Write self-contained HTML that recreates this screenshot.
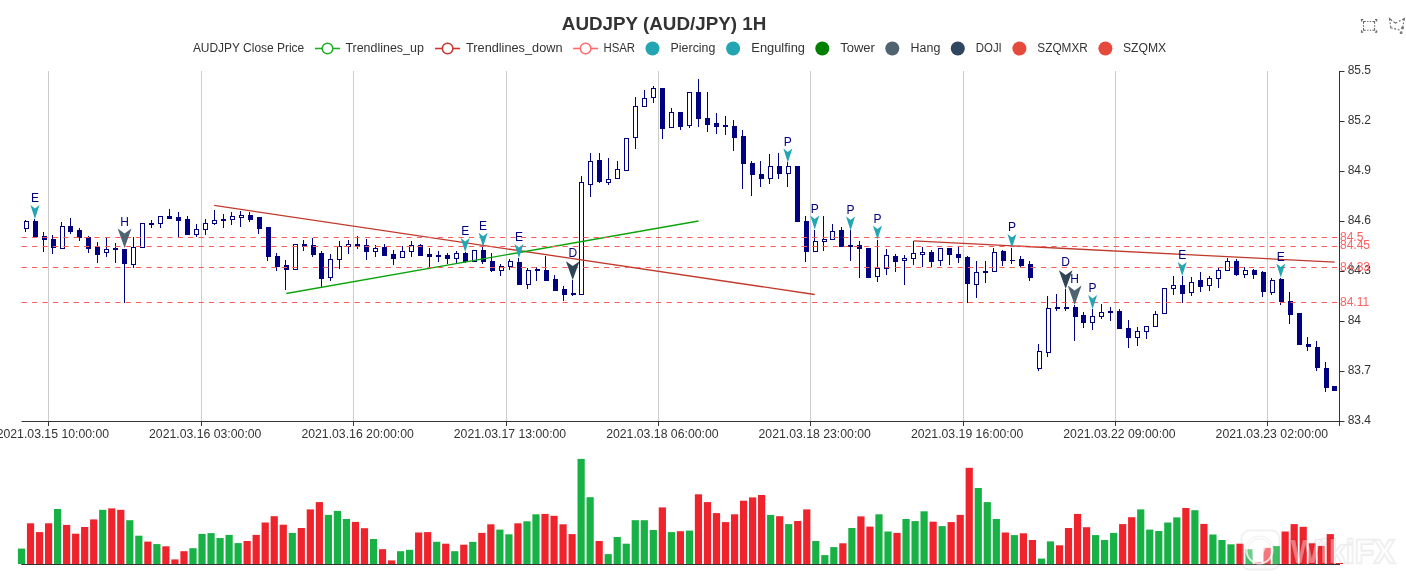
<!DOCTYPE html>
<html><head><meta charset="utf-8"><title>AUDJPY (AUD/JPY) 1H</title>
<style>
html,body{margin:0;padding:0;background:#fff;}
body{width:1406px;height:586px;overflow:hidden;}
svg{display:block;font-family:"Liberation Sans", Arial, sans-serif;will-change:transform;}
</style></head>
<body>
<svg width="1406" height="586" viewBox="0 0 1406 586" shape-rendering="auto">
<rect width="1406" height="586" fill="#fff"/>
<text x="561.8" y="30" font-size="18.6" font-weight="bold" fill="#333" textLength="204.5" lengthAdjust="spacingAndGlyphs">AUDJPY (AUD/JPY) 1H</text>
<text x="192.9" y="52" font-size="12" fill="#333" textLength="111.3" lengthAdjust="spacingAndGlyphs">AUDJPY Close Price</text>
<text x="345.4" y="52" font-size="12" fill="#333" textLength="78.5" lengthAdjust="spacingAndGlyphs">Trendlines_up</text>
<text x="466" y="52" font-size="12" fill="#333" textLength="96.5" lengthAdjust="spacingAndGlyphs">Trendlines_down</text>
<text x="603.4" y="52" font-size="12" fill="#333" textLength="31.7" lengthAdjust="spacingAndGlyphs">HSAR</text>
<text x="670.6" y="52" font-size="12" fill="#333" textLength="44.8" lengthAdjust="spacingAndGlyphs">Piercing</text>
<text x="751.3" y="52" font-size="12" fill="#333" textLength="53.7" lengthAdjust="spacingAndGlyphs">Engulfing</text>
<text x="840.2" y="52" font-size="12" fill="#333" textLength="34.7" lengthAdjust="spacingAndGlyphs">Tower</text>
<text x="910.6" y="52" font-size="12" fill="#333" textLength="29.7" lengthAdjust="spacingAndGlyphs">Hang</text>
<text x="975.8" y="52" font-size="12" fill="#333" textLength="26" lengthAdjust="spacingAndGlyphs">DOJI</text>
<text x="1037.3" y="52" font-size="12" fill="#333" textLength="50.5" lengthAdjust="spacingAndGlyphs">SZQMXR</text>
<text x="1123" y="52" font-size="12" fill="#333" textLength="43.2" lengthAdjust="spacingAndGlyphs">SZQMX</text>
<line x1="315" y1="48.5" x2="340" y2="48.5" stroke="#1fae2a" stroke-width="1.6"/>
<circle cx="327.5" cy="48.5" r="5.3" fill="#fff" stroke="#1fae2a" stroke-width="1.5"/>
<line x1="435.1" y1="48.5" x2="460.1" y2="48.5" stroke="#c8352b" stroke-width="1.6"/>
<circle cx="447.6" cy="48.5" r="5.3" fill="#fff" stroke="#c8352b" stroke-width="1.5"/>
<line x1="573.1" y1="48.5" x2="598.1" y2="48.5" stroke="#ff6a6a" stroke-width="1.6"/>
<circle cx="585.6" cy="48.5" r="5.3" fill="#fff" stroke="#ff6a6a" stroke-width="1.5"/>
<circle cx="652.5" cy="48.5" r="7" fill="#23a5b3"/>
<circle cx="733.1" cy="48.5" r="7" fill="#23a5b3"/>
<circle cx="822.3" cy="48.5" r="7" fill="#008000"/>
<circle cx="892.3" cy="48.5" r="7" fill="#4f6470"/>
<circle cx="957.8" cy="48.5" r="7" fill="#2f4560"/>
<circle cx="1019.4" cy="48.5" r="7" fill="#e64a3c"/>
<circle cx="1105.4" cy="48.5" r="7" fill="#e64a3c"/>
<g transform="translate(1361.43,19.64) scale(0.170,0.178)"><path d="M0.4,10V-0.2h9.8 M89.6,10V-0.2h-9.8 M0.4,60v10.2h9.8 M89.6,60v10.2h-9.8 M12.3,22.4V10.5h13.1 M33.6,10.5h7.8 M49.1,10.5h7.8 M77.5,22.4V10.5h-13 M12.3,31.1v8.2 M77.7,31.1v8.2 M12.3,47.6v11.9h13.1 M33.6,59.5h7.6 M49.1,59.5 h7.7 M77.5,47.6v11.9h-13" fill="none" stroke="#666" stroke-width="1.1" vector-effect="non-scaling-stroke"/></g>
<g transform="translate(1386.67,17.12) scale(0.287,0.287)"><path d="M55.2,34.9c1.7,0,3.1,1.4,3.1,3.1s-1.4,3.1-3.1,3.1 s-3.1-1.4-3.1-3.1S53.5,34.9,55.2,34.9z M50.4,51c1.7,0,3.1,1.4,3.1,3.1c0,1.7-1.4,3.1-3.1,3.1c-1.7,0-3.1-1.4-3.1-3.1 C47.3,52.4,48.7,51,50.4,51z M55.6,37.1l1.5-7.8 M60.1,13.5l1.6-8.7l-7.8,4 M59,19l-1,5.3 M24,16.1l6.4,4.9l6.4-3.3 M48.5,11.6 l-5.9,3.1 M19.1,12.8L9.7,5.1l1.1,7.7 M13.4,29.8l1,7.3l6.6,1.6 M11.6,18.4l1,6.1 M32.8,41.9L26.6,40 M44.6,45.1L38.4,43.4" fill="none" stroke="#666" stroke-width="1.1" vector-effect="non-scaling-stroke"/></g>
<line x1="48.5" y1="71" x2="48.5" y2="421.5" stroke="#ccc" stroke-width="1"/>
<line x1="201.5" y1="71" x2="201.5" y2="421.5" stroke="#ccc" stroke-width="1"/>
<line x1="353.5" y1="71" x2="353.5" y2="421.5" stroke="#ccc" stroke-width="1"/>
<line x1="506.5" y1="71" x2="506.5" y2="421.5" stroke="#ccc" stroke-width="1"/>
<line x1="658.5" y1="71" x2="658.5" y2="421.5" stroke="#ccc" stroke-width="1"/>
<line x1="810.5" y1="71" x2="810.5" y2="421.5" stroke="#ccc" stroke-width="1"/>
<line x1="963.5" y1="71" x2="963.5" y2="421.5" stroke="#ccc" stroke-width="1"/>
<line x1="1115.5" y1="71" x2="1115.5" y2="421.5" stroke="#ccc" stroke-width="1"/>
<line x1="1267.5" y1="71" x2="1267.5" y2="421.5" stroke="#ccc" stroke-width="1"/>
<line x1="25.5" y1="220" x2="25.5" y2="232" stroke="#000080" stroke-width="1"/>
<rect x="24.5" y="221.5" width="4" height="7" fill="#fff" stroke="#000080" stroke-width="1"/>
<line x1="34.5" y1="219" x2="34.5" y2="238" stroke="#000080" stroke-width="1"/>
<rect x="33.5" y="221.5" width="4" height="15" fill="#000080" stroke="#000080" stroke-width="1"/>
<line x1="43.5" y1="232" x2="43.5" y2="252" stroke="#000080" stroke-width="1"/>
<rect x="42.5" y="236.5" width="4" height="3" fill="#000080" stroke="#000080" stroke-width="1"/>
<line x1="52.5" y1="235" x2="52.5" y2="254" stroke="#000080" stroke-width="1"/>
<rect x="51.5" y="239.5" width="4" height="8" fill="#000080" stroke="#000080" stroke-width="1"/>
<line x1="61.5" y1="222" x2="61.5" y2="249" stroke="#000080" stroke-width="1"/>
<rect x="60.5" y="226.5" width="4" height="22" fill="#fff" stroke="#000080" stroke-width="1"/>
<line x1="70.5" y1="218" x2="70.5" y2="234" stroke="#000080" stroke-width="1"/>
<rect x="68.5" y="226.5" width="4" height="5" fill="#000080" stroke="#000080" stroke-width="1"/>
<line x1="79.5" y1="228" x2="79.5" y2="241" stroke="#000080" stroke-width="1"/>
<rect x="77.5" y="230.5" width="4" height="7" fill="#000080" stroke="#000080" stroke-width="1"/>
<line x1="88.5" y1="236" x2="88.5" y2="253" stroke="#000080" stroke-width="1"/>
<rect x="86.5" y="237.5" width="4" height="11" fill="#000080" stroke="#000080" stroke-width="1"/>
<line x1="97.5" y1="242" x2="97.5" y2="263" stroke="#000080" stroke-width="1"/>
<rect x="95.5" y="247.5" width="4" height="7" fill="#000080" stroke="#000080" stroke-width="1"/>
<line x1="106.5" y1="238" x2="106.5" y2="257" stroke="#000080" stroke-width="1"/>
<rect x="104.5" y="249.5" width="4" height="3" fill="#fff" stroke="#000080" stroke-width="1"/>
<line x1="115.5" y1="243" x2="115.5" y2="263" stroke="#000080" stroke-width="1"/>
<rect x="113.5" y="248.5" width="4" height="1" fill="#000080" stroke="#000080" stroke-width="1"/>
<line x1="124.5" y1="249" x2="124.5" y2="303" stroke="#000080" stroke-width="1"/>
<rect x="122.5" y="249.5" width="4" height="14" fill="#000080" stroke="#000080" stroke-width="1"/>
<line x1="133.5" y1="237" x2="133.5" y2="268" stroke="#000080" stroke-width="1"/>
<rect x="131.5" y="247.5" width="4" height="17" fill="#fff" stroke="#000080" stroke-width="1"/>
<line x1="142.5" y1="223" x2="142.5" y2="248" stroke="#000080" stroke-width="1"/>
<rect x="140.5" y="223.5" width="4" height="24" fill="#fff" stroke="#000080" stroke-width="1"/>
<line x1="151.5" y1="220" x2="151.5" y2="228" stroke="#000080" stroke-width="1"/>
<rect x="149.5" y="223.5" width="4" height="1" fill="#000080" stroke="#000080" stroke-width="1"/>
<line x1="160.5" y1="216" x2="160.5" y2="228" stroke="#000080" stroke-width="1"/>
<rect x="158.5" y="216.5" width="4" height="7" fill="#fff" stroke="#000080" stroke-width="1"/>
<line x1="169.5" y1="209" x2="169.5" y2="219" stroke="#000080" stroke-width="1"/>
<rect x="167.5" y="216.5" width="4" height="2" fill="#000080" stroke="#000080" stroke-width="1"/>
<line x1="178.5" y1="212" x2="178.5" y2="238" stroke="#000080" stroke-width="1"/>
<rect x="176.5" y="217.5" width="4" height="3" fill="#000080" stroke="#000080" stroke-width="1"/>
<line x1="187.5" y1="216" x2="187.5" y2="235" stroke="#000080" stroke-width="1"/>
<rect x="185.5" y="219.5" width="4" height="15" fill="#000080" stroke="#000080" stroke-width="1"/>
<line x1="196.5" y1="224" x2="196.5" y2="237" stroke="#000080" stroke-width="1"/>
<rect x="194.5" y="229.5" width="4" height="5" fill="#fff" stroke="#000080" stroke-width="1"/>
<line x1="205.5" y1="219" x2="205.5" y2="235" stroke="#000080" stroke-width="1"/>
<rect x="203.5" y="223.5" width="4" height="6" fill="#fff" stroke="#000080" stroke-width="1"/>
<line x1="214.5" y1="210" x2="214.5" y2="225" stroke="#000080" stroke-width="1"/>
<rect x="212.5" y="220.5" width="4" height="3" fill="#fff" stroke="#000080" stroke-width="1"/>
<line x1="223.5" y1="214" x2="223.5" y2="228" stroke="#000080" stroke-width="1"/>
<rect x="221.5" y="219.5" width="4" height="1" fill="#fff" stroke="#000080" stroke-width="1"/>
<line x1="231.5" y1="212" x2="231.5" y2="225" stroke="#000080" stroke-width="1"/>
<rect x="230.5" y="216.5" width="4" height="3" fill="#fff" stroke="#000080" stroke-width="1"/>
<line x1="240.5" y1="211" x2="240.5" y2="227" stroke="#000080" stroke-width="1"/>
<rect x="239.5" y="215.5" width="4" height="2" fill="#fff" stroke="#000080" stroke-width="1"/>
<line x1="249.5" y1="212" x2="249.5" y2="222" stroke="#000080" stroke-width="1"/>
<rect x="248.5" y="215.5" width="4" height="4" fill="#000080" stroke="#000080" stroke-width="1"/>
<line x1="258.5" y1="217" x2="258.5" y2="234" stroke="#000080" stroke-width="1"/>
<rect x="257.5" y="217.5" width="4" height="11" fill="#000080" stroke="#000080" stroke-width="1"/>
<line x1="267.5" y1="227" x2="267.5" y2="261" stroke="#000080" stroke-width="1"/>
<rect x="266.5" y="227.5" width="4" height="29" fill="#000080" stroke="#000080" stroke-width="1"/>
<line x1="276.5" y1="253" x2="276.5" y2="271" stroke="#000080" stroke-width="1"/>
<rect x="275.5" y="256.5" width="4" height="10" fill="#000080" stroke="#000080" stroke-width="1"/>
<line x1="285.5" y1="260" x2="285.5" y2="290" stroke="#000080" stroke-width="1"/>
<rect x="284.5" y="265.5" width="4" height="4" fill="#000080" stroke="#000080" stroke-width="1"/>
<line x1="294.5" y1="244" x2="294.5" y2="270" stroke="#000080" stroke-width="1"/>
<rect x="293.5" y="244.5" width="4" height="25" fill="#fff" stroke="#000080" stroke-width="1"/>
<line x1="303.5" y1="240" x2="303.5" y2="251" stroke="#000080" stroke-width="1"/>
<rect x="302.5" y="244.5" width="4" height="2" fill="#000080" stroke="#000080" stroke-width="1"/>
<line x1="312.5" y1="238" x2="312.5" y2="257" stroke="#000080" stroke-width="1"/>
<rect x="311.5" y="245.5" width="4" height="9" fill="#000080" stroke="#000080" stroke-width="1"/>
<line x1="321.5" y1="251" x2="321.5" y2="287" stroke="#000080" stroke-width="1"/>
<rect x="319.5" y="253.5" width="4" height="25" fill="#000080" stroke="#000080" stroke-width="1"/>
<line x1="330.5" y1="254" x2="330.5" y2="281" stroke="#000080" stroke-width="1"/>
<rect x="328.5" y="259.5" width="4" height="18" fill="#fff" stroke="#000080" stroke-width="1"/>
<line x1="339.5" y1="241" x2="339.5" y2="269" stroke="#000080" stroke-width="1"/>
<rect x="337.5" y="246.5" width="4" height="13" fill="#fff" stroke="#000080" stroke-width="1"/>
<line x1="348.5" y1="240" x2="348.5" y2="254" stroke="#000080" stroke-width="1"/>
<rect x="346.5" y="244.5" width="4" height="2" fill="#fff" stroke="#000080" stroke-width="1"/>
<line x1="357.5" y1="236" x2="357.5" y2="249" stroke="#000080" stroke-width="1"/>
<rect x="355.5" y="244.5" width="4" height="2" fill="#000080" stroke="#000080" stroke-width="1"/>
<line x1="366.5" y1="239" x2="366.5" y2="260" stroke="#000080" stroke-width="1"/>
<rect x="364.5" y="245.5" width="4" height="6" fill="#000080" stroke="#000080" stroke-width="1"/>
<line x1="375.5" y1="245" x2="375.5" y2="257" stroke="#000080" stroke-width="1"/>
<rect x="373.5" y="248.5" width="4" height="3" fill="#fff" stroke="#000080" stroke-width="1"/>
<line x1="384.5" y1="244" x2="384.5" y2="256" stroke="#000080" stroke-width="1"/>
<rect x="382.5" y="247.5" width="4" height="8" fill="#000080" stroke="#000080" stroke-width="1"/>
<line x1="393.5" y1="250" x2="393.5" y2="265" stroke="#000080" stroke-width="1"/>
<rect x="391.5" y="254.5" width="4" height="4" fill="#000080" stroke="#000080" stroke-width="1"/>
<line x1="402.5" y1="246" x2="402.5" y2="258" stroke="#000080" stroke-width="1"/>
<rect x="400.5" y="251.5" width="4" height="6" fill="#fff" stroke="#000080" stroke-width="1"/>
<line x1="411.5" y1="241" x2="411.5" y2="257" stroke="#000080" stroke-width="1"/>
<rect x="409.5" y="245.5" width="4" height="6" fill="#fff" stroke="#000080" stroke-width="1"/>
<line x1="420.5" y1="244" x2="420.5" y2="256" stroke="#000080" stroke-width="1"/>
<rect x="418.5" y="245.5" width="4" height="10" fill="#000080" stroke="#000080" stroke-width="1"/>
<line x1="429.5" y1="248" x2="429.5" y2="268" stroke="#000080" stroke-width="1"/>
<rect x="427.5" y="254.5" width="4" height="2" fill="#000080" stroke="#000080" stroke-width="1"/>
<line x1="438.5" y1="251" x2="438.5" y2="262" stroke="#000080" stroke-width="1"/>
<rect x="436.5" y="255.5" width="4" height="1" fill="#fff" stroke="#000080" stroke-width="1"/>
<line x1="447.5" y1="253" x2="447.5" y2="264" stroke="#000080" stroke-width="1"/>
<rect x="445.5" y="255.5" width="4" height="3" fill="#000080" stroke="#000080" stroke-width="1"/>
<line x1="456.5" y1="251" x2="456.5" y2="263" stroke="#000080" stroke-width="1"/>
<rect x="454.5" y="253.5" width="4" height="5" fill="#fff" stroke="#000080" stroke-width="1"/>
<line x1="465.5" y1="252" x2="465.5" y2="263" stroke="#000080" stroke-width="1"/>
<rect x="463.5" y="253.5" width="4" height="8" fill="#000080" stroke="#000080" stroke-width="1"/>
<line x1="474.5" y1="250" x2="474.5" y2="262" stroke="#000080" stroke-width="1"/>
<rect x="472.5" y="250.5" width="4" height="11" fill="#fff" stroke="#000080" stroke-width="1"/>
<line x1="482.5" y1="247" x2="482.5" y2="264" stroke="#000080" stroke-width="1"/>
<rect x="481.5" y="250.5" width="4" height="11" fill="#000080" stroke="#000080" stroke-width="1"/>
<line x1="491.5" y1="253" x2="491.5" y2="272" stroke="#000080" stroke-width="1"/>
<rect x="490.5" y="261.5" width="4" height="9" fill="#000080" stroke="#000080" stroke-width="1"/>
<line x1="500.5" y1="264" x2="500.5" y2="276" stroke="#000080" stroke-width="1"/>
<rect x="499.5" y="266.5" width="4" height="4" fill="#fff" stroke="#000080" stroke-width="1"/>
<line x1="509.5" y1="259" x2="509.5" y2="270" stroke="#000080" stroke-width="1"/>
<rect x="508.5" y="261.5" width="4" height="5" fill="#fff" stroke="#000080" stroke-width="1"/>
<line x1="518.5" y1="258" x2="518.5" y2="285" stroke="#000080" stroke-width="1"/>
<rect x="517.5" y="262.5" width="4" height="22" fill="#000080" stroke="#000080" stroke-width="1"/>
<line x1="527.5" y1="268" x2="527.5" y2="289" stroke="#000080" stroke-width="1"/>
<rect x="526.5" y="270.5" width="4" height="14" fill="#fff" stroke="#000080" stroke-width="1"/>
<line x1="536.5" y1="267" x2="536.5" y2="281" stroke="#000080" stroke-width="1"/>
<rect x="535.5" y="269.5" width="4" height="1" fill="#fff" stroke="#000080" stroke-width="1"/>
<line x1="545.5" y1="256" x2="545.5" y2="281" stroke="#000080" stroke-width="1"/>
<rect x="544.5" y="270.5" width="4" height="10" fill="#000080" stroke="#000080" stroke-width="1"/>
<line x1="554.5" y1="275" x2="554.5" y2="291" stroke="#000080" stroke-width="1"/>
<rect x="553.5" y="279.5" width="4" height="11" fill="#000080" stroke="#000080" stroke-width="1"/>
<line x1="563.5" y1="286" x2="563.5" y2="301" stroke="#000080" stroke-width="1"/>
<rect x="562.5" y="289.5" width="4" height="5" fill="#000080" stroke="#000080" stroke-width="1"/>
<line x1="572.5" y1="280" x2="572.5" y2="296" stroke="#000080" stroke-width="1"/>
<rect x="571.5" y="293.5" width="4" height="1" fill="#000080" stroke="#000080" stroke-width="1"/>
<line x1="581.5" y1="176" x2="581.5" y2="295" stroke="#000080" stroke-width="1"/>
<rect x="579.5" y="182.5" width="4" height="112" fill="#fff" stroke="#000080" stroke-width="1"/>
<line x1="590.5" y1="153" x2="590.5" y2="197" stroke="#000080" stroke-width="1"/>
<rect x="588.5" y="161.5" width="4" height="23" fill="#fff" stroke="#000080" stroke-width="1"/>
<line x1="599.5" y1="153" x2="599.5" y2="183" stroke="#000080" stroke-width="1"/>
<rect x="597.5" y="160.5" width="4" height="21" fill="#000080" stroke="#000080" stroke-width="1"/>
<line x1="608.5" y1="158" x2="608.5" y2="185" stroke="#000080" stroke-width="1"/>
<rect x="606.5" y="179.5" width="4" height="3" fill="#fff" stroke="#000080" stroke-width="1"/>
<line x1="617.5" y1="161" x2="617.5" y2="179" stroke="#000080" stroke-width="1"/>
<rect x="615.5" y="169.5" width="4" height="9" fill="#fff" stroke="#000080" stroke-width="1"/>
<line x1="626.5" y1="138" x2="626.5" y2="171" stroke="#000080" stroke-width="1"/>
<rect x="624.5" y="138.5" width="4" height="32" fill="#fff" stroke="#000080" stroke-width="1"/>
<line x1="635.5" y1="97" x2="635.5" y2="149" stroke="#000080" stroke-width="1"/>
<rect x="633.5" y="106.5" width="4" height="31" fill="#fff" stroke="#000080" stroke-width="1"/>
<line x1="644.5" y1="90" x2="644.5" y2="107" stroke="#000080" stroke-width="1"/>
<rect x="642.5" y="98.5" width="4" height="8" fill="#fff" stroke="#000080" stroke-width="1"/>
<line x1="653.5" y1="86" x2="653.5" y2="103" stroke="#000080" stroke-width="1"/>
<rect x="651.5" y="88.5" width="4" height="9" fill="#fff" stroke="#000080" stroke-width="1"/>
<line x1="662.5" y1="88" x2="662.5" y2="139" stroke="#000080" stroke-width="1"/>
<rect x="660.5" y="88.5" width="4" height="40" fill="#000080" stroke="#000080" stroke-width="1"/>
<line x1="671.5" y1="108" x2="671.5" y2="128" stroke="#000080" stroke-width="1"/>
<rect x="669.5" y="112.5" width="4" height="15" fill="#fff" stroke="#000080" stroke-width="1"/>
<line x1="680.5" y1="112" x2="680.5" y2="130" stroke="#000080" stroke-width="1"/>
<rect x="678.5" y="112.5" width="4" height="14" fill="#000080" stroke="#000080" stroke-width="1"/>
<line x1="689.5" y1="92" x2="689.5" y2="128" stroke="#000080" stroke-width="1"/>
<rect x="687.5" y="92.5" width="4" height="33" fill="#fff" stroke="#000080" stroke-width="1"/>
<line x1="698.5" y1="79" x2="698.5" y2="127" stroke="#000080" stroke-width="1"/>
<rect x="696.5" y="92.5" width="4" height="26" fill="#000080" stroke="#000080" stroke-width="1"/>
<line x1="707.5" y1="92" x2="707.5" y2="132" stroke="#000080" stroke-width="1"/>
<rect x="705.5" y="118.5" width="4" height="6" fill="#000080" stroke="#000080" stroke-width="1"/>
<line x1="716.5" y1="113" x2="716.5" y2="134" stroke="#000080" stroke-width="1"/>
<rect x="714.5" y="123.5" width="4" height="3" fill="#000080" stroke="#000080" stroke-width="1"/>
<line x1="725.5" y1="116" x2="725.5" y2="135" stroke="#000080" stroke-width="1"/>
<rect x="723.5" y="125.5" width="4" height="1" fill="#000080" stroke="#000080" stroke-width="1"/>
<line x1="733.5" y1="120" x2="733.5" y2="151" stroke="#000080" stroke-width="1"/>
<rect x="732.5" y="126.5" width="4" height="11" fill="#000080" stroke="#000080" stroke-width="1"/>
<line x1="742.5" y1="130" x2="742.5" y2="189" stroke="#000080" stroke-width="1"/>
<rect x="741.5" y="136.5" width="4" height="27" fill="#000080" stroke="#000080" stroke-width="1"/>
<line x1="751.5" y1="161" x2="751.5" y2="196" stroke="#000080" stroke-width="1"/>
<rect x="750.5" y="163.5" width="4" height="11" fill="#000080" stroke="#000080" stroke-width="1"/>
<line x1="760.5" y1="161" x2="760.5" y2="187" stroke="#000080" stroke-width="1"/>
<rect x="759.5" y="174.5" width="4" height="4" fill="#000080" stroke="#000080" stroke-width="1"/>
<line x1="769.5" y1="154" x2="769.5" y2="184" stroke="#000080" stroke-width="1"/>
<rect x="768.5" y="166.5" width="4" height="12" fill="#fff" stroke="#000080" stroke-width="1"/>
<line x1="778.5" y1="153" x2="778.5" y2="179" stroke="#000080" stroke-width="1"/>
<rect x="777.5" y="166.5" width="4" height="7" fill="#000080" stroke="#000080" stroke-width="1"/>
<line x1="787.5" y1="162" x2="787.5" y2="187" stroke="#000080" stroke-width="1"/>
<rect x="786.5" y="166.5" width="4" height="7" fill="#fff" stroke="#000080" stroke-width="1"/>
<line x1="796.5" y1="166" x2="796.5" y2="222" stroke="#000080" stroke-width="1"/>
<rect x="795.5" y="166.5" width="4" height="55" fill="#000080" stroke="#000080" stroke-width="1"/>
<line x1="805.5" y1="216" x2="805.5" y2="262" stroke="#000080" stroke-width="1"/>
<rect x="804.5" y="221.5" width="4" height="30" fill="#000080" stroke="#000080" stroke-width="1"/>
<line x1="814.5" y1="230" x2="814.5" y2="252" stroke="#000080" stroke-width="1"/>
<rect x="813.5" y="241.5" width="4" height="10" fill="#fff" stroke="#000080" stroke-width="1"/>
<line x1="823.5" y1="216" x2="823.5" y2="251" stroke="#000080" stroke-width="1"/>
<rect x="822.5" y="239.5" width="4" height="2" fill="#fff" stroke="#000080" stroke-width="1"/>
<line x1="832.5" y1="224" x2="832.5" y2="240" stroke="#000080" stroke-width="1"/>
<rect x="830.5" y="231.5" width="4" height="8" fill="#fff" stroke="#000080" stroke-width="1"/>
<line x1="841.5" y1="227" x2="841.5" y2="247" stroke="#000080" stroke-width="1"/>
<rect x="839.5" y="230.5" width="4" height="16" fill="#000080" stroke="#000080" stroke-width="1"/>
<line x1="850.5" y1="230" x2="850.5" y2="261" stroke="#000080" stroke-width="1"/>
<rect x="848.5" y="245.5" width="4" height="1" fill="#fff" stroke="#000080" stroke-width="1"/>
<line x1="859.5" y1="241" x2="859.5" y2="278" stroke="#000080" stroke-width="1"/>
<rect x="857.5" y="245.5" width="4" height="3" fill="#000080" stroke="#000080" stroke-width="1"/>
<line x1="868.5" y1="248" x2="868.5" y2="278" stroke="#000080" stroke-width="1"/>
<rect x="866.5" y="248.5" width="4" height="29" fill="#000080" stroke="#000080" stroke-width="1"/>
<line x1="877.5" y1="240" x2="877.5" y2="282" stroke="#000080" stroke-width="1"/>
<rect x="875.5" y="268.5" width="4" height="8" fill="#fff" stroke="#000080" stroke-width="1"/>
<line x1="886.5" y1="249" x2="886.5" y2="275" stroke="#000080" stroke-width="1"/>
<rect x="884.5" y="255.5" width="4" height="13" fill="#fff" stroke="#000080" stroke-width="1"/>
<line x1="895.5" y1="254" x2="895.5" y2="272" stroke="#000080" stroke-width="1"/>
<rect x="893.5" y="256.5" width="4" height="5" fill="#000080" stroke="#000080" stroke-width="1"/>
<line x1="904.5" y1="255" x2="904.5" y2="285" stroke="#000080" stroke-width="1"/>
<rect x="902.5" y="258.5" width="4" height="2" fill="#fff" stroke="#000080" stroke-width="1"/>
<line x1="913.5" y1="241" x2="913.5" y2="265" stroke="#000080" stroke-width="1"/>
<rect x="911.5" y="253.5" width="4" height="5" fill="#fff" stroke="#000080" stroke-width="1"/>
<line x1="922.5" y1="247" x2="922.5" y2="267" stroke="#000080" stroke-width="1"/>
<rect x="920.5" y="252.5" width="4" height="2" fill="#fff" stroke="#000080" stroke-width="1"/>
<line x1="931.5" y1="250" x2="931.5" y2="267" stroke="#000080" stroke-width="1"/>
<rect x="929.5" y="252.5" width="4" height="9" fill="#000080" stroke="#000080" stroke-width="1"/>
<line x1="940.5" y1="248" x2="940.5" y2="266" stroke="#000080" stroke-width="1"/>
<rect x="938.5" y="248.5" width="4" height="12" fill="#fff" stroke="#000080" stroke-width="1"/>
<line x1="949.5" y1="248" x2="949.5" y2="265" stroke="#000080" stroke-width="1"/>
<rect x="947.5" y="248.5" width="4" height="6" fill="#000080" stroke="#000080" stroke-width="1"/>
<line x1="958.5" y1="247" x2="958.5" y2="263" stroke="#000080" stroke-width="1"/>
<rect x="956.5" y="254.5" width="4" height="3" fill="#000080" stroke="#000080" stroke-width="1"/>
<line x1="967.5" y1="256" x2="967.5" y2="303" stroke="#000080" stroke-width="1"/>
<rect x="965.5" y="257.5" width="4" height="26" fill="#000080" stroke="#000080" stroke-width="1"/>
<line x1="976.5" y1="261" x2="976.5" y2="298" stroke="#000080" stroke-width="1"/>
<rect x="974.5" y="272.5" width="4" height="12" fill="#fff" stroke="#000080" stroke-width="1"/>
<line x1="985.5" y1="261" x2="985.5" y2="283" stroke="#000080" stroke-width="1"/>
<rect x="983.5" y="271.5" width="4" height="1" fill="#fff" stroke="#000080" stroke-width="1"/>
<line x1="993.5" y1="248" x2="993.5" y2="272" stroke="#000080" stroke-width="1"/>
<rect x="992.5" y="252.5" width="4" height="19" fill="#fff" stroke="#000080" stroke-width="1"/>
<line x1="1002.5" y1="250" x2="1002.5" y2="266" stroke="#000080" stroke-width="1"/>
<rect x="1001.5" y="251.5" width="4" height="9" fill="#000080" stroke="#000080" stroke-width="1"/>
<line x1="1011.5" y1="248" x2="1011.5" y2="264" stroke="#000080" stroke-width="1"/>
<line x1="1010" y1="260.5" x2="1015" y2="260.5" stroke="#000080" stroke-width="1"/>
<line x1="1020.5" y1="256" x2="1020.5" y2="267" stroke="#000080" stroke-width="1"/>
<rect x="1019.5" y="259.5" width="4" height="6" fill="#000080" stroke="#000080" stroke-width="1"/>
<line x1="1029.5" y1="261" x2="1029.5" y2="281" stroke="#000080" stroke-width="1"/>
<rect x="1028.5" y="264.5" width="4" height="13" fill="#000080" stroke="#000080" stroke-width="1"/>
<line x1="1038.5" y1="344" x2="1038.5" y2="371" stroke="#000080" stroke-width="1"/>
<rect x="1037.5" y="351.5" width="4" height="17" fill="#fff" stroke="#000080" stroke-width="1"/>
<line x1="1047.5" y1="296" x2="1047.5" y2="357" stroke="#000080" stroke-width="1"/>
<rect x="1046.5" y="308.5" width="4" height="44" fill="#fff" stroke="#000080" stroke-width="1"/>
<line x1="1056.5" y1="294" x2="1056.5" y2="311" stroke="#000080" stroke-width="1"/>
<rect x="1055.5" y="307.5" width="4" height="1" fill="#000080" stroke="#000080" stroke-width="1"/>
<line x1="1065.5" y1="289" x2="1065.5" y2="311" stroke="#000080" stroke-width="1"/>
<rect x="1064.5" y="307.5" width="4" height="1" fill="#000080" stroke="#000080" stroke-width="1"/>
<line x1="1074.5" y1="305" x2="1074.5" y2="341" stroke="#000080" stroke-width="1"/>
<rect x="1073.5" y="307.5" width="4" height="9" fill="#000080" stroke="#000080" stroke-width="1"/>
<line x1="1083.5" y1="312" x2="1083.5" y2="328" stroke="#000080" stroke-width="1"/>
<rect x="1081.5" y="315.5" width="4" height="7" fill="#000080" stroke="#000080" stroke-width="1"/>
<line x1="1092.5" y1="309" x2="1092.5" y2="330" stroke="#000080" stroke-width="1"/>
<rect x="1090.5" y="316.5" width="4" height="6" fill="#fff" stroke="#000080" stroke-width="1"/>
<line x1="1101.5" y1="304" x2="1101.5" y2="319" stroke="#000080" stroke-width="1"/>
<rect x="1099.5" y="312.5" width="4" height="4" fill="#fff" stroke="#000080" stroke-width="1"/>
<line x1="1110.5" y1="307" x2="1110.5" y2="321" stroke="#000080" stroke-width="1"/>
<rect x="1108.5" y="311.5" width="4" height="1" fill="#fff" stroke="#000080" stroke-width="1"/>
<line x1="1119.5" y1="309" x2="1119.5" y2="329" stroke="#000080" stroke-width="1"/>
<rect x="1117.5" y="311.5" width="4" height="17" fill="#000080" stroke="#000080" stroke-width="1"/>
<line x1="1128.5" y1="320" x2="1128.5" y2="348" stroke="#000080" stroke-width="1"/>
<rect x="1126.5" y="328.5" width="4" height="9" fill="#000080" stroke="#000080" stroke-width="1"/>
<line x1="1137.5" y1="327" x2="1137.5" y2="346" stroke="#000080" stroke-width="1"/>
<rect x="1135.5" y="331.5" width="4" height="6" fill="#fff" stroke="#000080" stroke-width="1"/>
<line x1="1146.5" y1="326" x2="1146.5" y2="339" stroke="#000080" stroke-width="1"/>
<rect x="1144.5" y="326.5" width="4" height="5" fill="#fff" stroke="#000080" stroke-width="1"/>
<line x1="1155.5" y1="311" x2="1155.5" y2="327" stroke="#000080" stroke-width="1"/>
<rect x="1153.5" y="314.5" width="4" height="12" fill="#fff" stroke="#000080" stroke-width="1"/>
<line x1="1164.5" y1="288" x2="1164.5" y2="314" stroke="#000080" stroke-width="1"/>
<rect x="1162.5" y="288.5" width="4" height="25" fill="#fff" stroke="#000080" stroke-width="1"/>
<line x1="1173.5" y1="276" x2="1173.5" y2="295" stroke="#000080" stroke-width="1"/>
<rect x="1171.5" y="285.5" width="4" height="3" fill="#fff" stroke="#000080" stroke-width="1"/>
<line x1="1182.5" y1="276" x2="1182.5" y2="303" stroke="#000080" stroke-width="1"/>
<rect x="1180.5" y="285.5" width="4" height="8" fill="#000080" stroke="#000080" stroke-width="1"/>
<line x1="1191.5" y1="277" x2="1191.5" y2="296" stroke="#000080" stroke-width="1"/>
<rect x="1189.5" y="282.5" width="4" height="10" fill="#fff" stroke="#000080" stroke-width="1"/>
<line x1="1200.5" y1="272" x2="1200.5" y2="292" stroke="#000080" stroke-width="1"/>
<rect x="1198.5" y="280.5" width="4" height="6" fill="#000080" stroke="#000080" stroke-width="1"/>
<line x1="1209.5" y1="276" x2="1209.5" y2="291" stroke="#000080" stroke-width="1"/>
<rect x="1207.5" y="278.5" width="4" height="7" fill="#fff" stroke="#000080" stroke-width="1"/>
<line x1="1218.5" y1="268" x2="1218.5" y2="288" stroke="#000080" stroke-width="1"/>
<rect x="1216.5" y="270.5" width="4" height="8" fill="#fff" stroke="#000080" stroke-width="1"/>
<line x1="1227.5" y1="258" x2="1227.5" y2="271" stroke="#000080" stroke-width="1"/>
<rect x="1225.5" y="261.5" width="4" height="9" fill="#fff" stroke="#000080" stroke-width="1"/>
<line x1="1236.5" y1="259" x2="1236.5" y2="276" stroke="#000080" stroke-width="1"/>
<rect x="1234.5" y="261.5" width="4" height="13" fill="#000080" stroke="#000080" stroke-width="1"/>
<line x1="1244.5" y1="267" x2="1244.5" y2="278" stroke="#000080" stroke-width="1"/>
<rect x="1243.5" y="270.5" width="4" height="4" fill="#fff" stroke="#000080" stroke-width="1"/>
<line x1="1253.5" y1="269" x2="1253.5" y2="279" stroke="#000080" stroke-width="1"/>
<rect x="1252.5" y="270.5" width="4" height="4" fill="#000080" stroke="#000080" stroke-width="1"/>
<line x1="1262.5" y1="271" x2="1262.5" y2="297" stroke="#000080" stroke-width="1"/>
<rect x="1261.5" y="272.5" width="4" height="19" fill="#000080" stroke="#000080" stroke-width="1"/>
<line x1="1271.5" y1="278" x2="1271.5" y2="295" stroke="#000080" stroke-width="1"/>
<rect x="1270.5" y="280.5" width="4" height="12" fill="#fff" stroke="#000080" stroke-width="1"/>
<line x1="1280.5" y1="278" x2="1280.5" y2="305" stroke="#000080" stroke-width="1"/>
<rect x="1279.5" y="279.5" width="4" height="22" fill="#000080" stroke="#000080" stroke-width="1"/>
<line x1="1289.5" y1="292" x2="1289.5" y2="324" stroke="#000080" stroke-width="1"/>
<rect x="1288.5" y="301.5" width="4" height="13" fill="#000080" stroke="#000080" stroke-width="1"/>
<line x1="1298.5" y1="313" x2="1298.5" y2="345" stroke="#000080" stroke-width="1"/>
<rect x="1297.5" y="313.5" width="4" height="31" fill="#000080" stroke="#000080" stroke-width="1"/>
<line x1="1307.5" y1="337" x2="1307.5" y2="351" stroke="#000080" stroke-width="1"/>
<rect x="1306.5" y="344.5" width="4" height="2" fill="#000080" stroke="#000080" stroke-width="1"/>
<line x1="1316.5" y1="341" x2="1316.5" y2="371" stroke="#000080" stroke-width="1"/>
<rect x="1315.5" y="347.5" width="4" height="20" fill="#000080" stroke="#000080" stroke-width="1"/>
<line x1="1325.5" y1="362" x2="1325.5" y2="392" stroke="#000080" stroke-width="1"/>
<rect x="1324.5" y="368.5" width="4" height="19" fill="#000080" stroke="#000080" stroke-width="1"/>
<line x1="1334.5" y1="386" x2="1334.5" y2="391" stroke="#000080" stroke-width="1"/>
<rect x="1332.5" y="386.5" width="4" height="4" fill="#000080" stroke="#000080" stroke-width="1"/>
<line x1="214.2" y1="205.4" x2="814.7" y2="294.5" stroke="#c0392b" stroke-width="1.3"/>
<line x1="286.3" y1="293.5" x2="698.5" y2="221" stroke="#0aa50a" stroke-width="1.3"/>
<line x1="913.7" y1="240.8" x2="1334.6" y2="262.1" stroke="#c0392b" stroke-width="1.3"/>
<line x1="21.7" y1="237.5" x2="1339" y2="237.5" stroke="#ff5a5a" stroke-width="1" stroke-dasharray="5.2 5.2"/>
<line x1="21.7" y1="246.5" x2="1339" y2="246.5" stroke="#ff5a5a" stroke-width="1" stroke-dasharray="5.2 5.2"/>
<line x1="21.7" y1="267.5" x2="1339" y2="267.5" stroke="#ff5a5a" stroke-width="1" stroke-dasharray="5.2 5.2"/>
<line x1="21.7" y1="302.5" x2="1339" y2="302.5" stroke="#ff5a5a" stroke-width="1" stroke-dasharray="5.2 5.2"/>
<path d="M34.94,219.1 L30.44,205.1 L34.94,208.6 L39.44,205.1 Z" fill="#22a6b3"/>
<text x="34.94" y="202.1" font-size="12" fill="#000080" text-anchor="middle">E</text>
<path d="M124.57,248 L117.67,228.5 L124.57,233.38 L131.47,228.5 Z" fill="#4f6470"/>
<text x="124.57" y="225.5" font-size="12" fill="#000080" text-anchor="middle">H</text>
<path d="M465.17,252 L460.67,238 L465.17,241.5 L469.67,238 Z" fill="#22a6b3"/>
<text x="465.17" y="235" font-size="12" fill="#000080" text-anchor="middle">E</text>
<path d="M483.09,246.8 L478.59,232.8 L483.09,236.3 L487.59,232.8 Z" fill="#22a6b3"/>
<text x="483.09" y="229.8" font-size="12" fill="#000080" text-anchor="middle">E</text>
<path d="M518.95,258 L514.45,244 L518.95,247.5 L523.45,244 Z" fill="#22a6b3"/>
<text x="518.95" y="241" font-size="12" fill="#000080" text-anchor="middle">E</text>
<path d="M572.72,280 L565.92,261.2 L572.72,265.9 L579.52,261.2 Z" fill="#2f4557"/>
<text x="572.72" y="257.2" font-size="12" fill="#000080" text-anchor="middle">D</text>
<path d="M787.84,162.5 L783.34,148.5 L787.84,152 L792.34,148.5 Z" fill="#22a6b3"/>
<text x="787.84" y="145.5" font-size="12" fill="#000080" text-anchor="middle">P</text>
<path d="M814.73,229.5 L810.23,215.5 L814.73,219 L819.23,215.5 Z" fill="#22a6b3"/>
<text x="814.73" y="212.5" font-size="12" fill="#000080" text-anchor="middle">P</text>
<path d="M850.58,230.5 L846.08,216.5 L850.58,220 L855.08,216.5 Z" fill="#22a6b3"/>
<text x="850.58" y="213.5" font-size="12" fill="#000080" text-anchor="middle">P</text>
<path d="M877.47,239.5 L872.97,225.5 L877.47,229 L881.97,225.5 Z" fill="#22a6b3"/>
<text x="877.47" y="222.5" font-size="12" fill="#000080" text-anchor="middle">P</text>
<path d="M1011.91,248 L1007.41,234 L1011.91,237.5 L1016.41,234 Z" fill="#22a6b3"/>
<text x="1011.91" y="231" font-size="12" fill="#000080" text-anchor="middle">P</text>
<path d="M1065.69,289 L1058.89,270.2 L1065.69,274.9 L1072.49,270.2 Z" fill="#2f4557"/>
<text x="1065.69" y="266.2" font-size="12" fill="#000080" text-anchor="middle">D</text>
<path d="M1074.65,305 L1067.75,285.5 L1074.65,290.38 L1081.55,285.5 Z" fill="#4f6470"/>
<text x="1074.65" y="282.5" font-size="12" fill="#000080" text-anchor="middle">H</text>
<path d="M1092.58,309 L1088.08,295 L1092.58,298.5 L1097.08,295 Z" fill="#22a6b3"/>
<text x="1092.58" y="292" font-size="12" fill="#000080" text-anchor="middle">P</text>
<path d="M1182.21,276 L1177.71,262 L1182.21,265.5 L1186.71,262 Z" fill="#22a6b3"/>
<text x="1182.21" y="259" font-size="12" fill="#000080" text-anchor="middle">E</text>
<path d="M1280.8,277.5 L1276.3,263.5 L1280.8,267 L1285.3,263.5 Z" fill="#22a6b3"/>
<text x="1280.8" y="260.5" font-size="12" fill="#000080" text-anchor="middle">E</text>
<line x1="21.5" y1="421.5" x2="1339.5" y2="421.5" stroke="#333" stroke-width="1"/>
<line x1="1339.5" y1="71" x2="1339.5" y2="422" stroke="#333" stroke-width="1"/>
<line x1="1339.5" y1="71.5" x2="1344.5" y2="71.5" stroke="#333" stroke-width="1"/>
<text x="1347.7" y="73.9" font-size="12" fill="#333">85.5</text>
<line x1="1339.5" y1="121.5" x2="1344.5" y2="121.5" stroke="#333" stroke-width="1"/>
<text x="1347.7" y="123.9" font-size="12" fill="#333">85.2</text>
<line x1="1339.5" y1="171.5" x2="1344.5" y2="171.5" stroke="#333" stroke-width="1"/>
<text x="1347.7" y="173.9" font-size="12" fill="#333">84.9</text>
<line x1="1339.5" y1="221.5" x2="1344.5" y2="221.5" stroke="#333" stroke-width="1"/>
<text x="1347.7" y="223.9" font-size="12" fill="#333">84.6</text>
<line x1="1339.5" y1="271.5" x2="1344.5" y2="271.5" stroke="#333" stroke-width="1"/>
<text x="1347.7" y="273.9" font-size="12" fill="#333">84.3</text>
<line x1="1339.5" y1="321.5" x2="1344.5" y2="321.5" stroke="#333" stroke-width="1"/>
<text x="1347.7" y="323.9" font-size="12" fill="#333">84</text>
<line x1="1339.5" y1="371.5" x2="1344.5" y2="371.5" stroke="#333" stroke-width="1"/>
<text x="1347.7" y="373.9" font-size="12" fill="#333">83.7</text>
<line x1="1339.5" y1="421.5" x2="1344.5" y2="421.5" stroke="#333" stroke-width="1"/>
<text x="1347.7" y="423.9" font-size="12" fill="#333">83.4</text>
<line x1="48.5" y1="421.5" x2="48.5" y2="426" stroke="#333" stroke-width="1"/>
<line x1="201.5" y1="421.5" x2="201.5" y2="426" stroke="#333" stroke-width="1"/>
<line x1="353.5" y1="421.5" x2="353.5" y2="426" stroke="#333" stroke-width="1"/>
<line x1="506.5" y1="421.5" x2="506.5" y2="426" stroke="#333" stroke-width="1"/>
<line x1="658.5" y1="421.5" x2="658.5" y2="426" stroke="#333" stroke-width="1"/>
<line x1="810.5" y1="421.5" x2="810.5" y2="426" stroke="#333" stroke-width="1"/>
<line x1="963.5" y1="421.5" x2="963.5" y2="426" stroke="#333" stroke-width="1"/>
<line x1="1115.5" y1="421.5" x2="1115.5" y2="426" stroke="#333" stroke-width="1"/>
<line x1="1267.5" y1="421.5" x2="1267.5" y2="426" stroke="#333" stroke-width="1"/>
<line x1="1339.5" y1="421.5" x2="1339.5" y2="426" stroke="#333" stroke-width="1"/>
<text x="52.87" y="437.9" font-size="12" fill="#333" text-anchor="middle" textLength="112.4" lengthAdjust="spacingAndGlyphs">2021.03.15 10:00:00</text>
<text x="205.24" y="437.9" font-size="12" fill="#333" text-anchor="middle" textLength="112.4" lengthAdjust="spacingAndGlyphs">2021.03.16 03:00:00</text>
<text x="357.61" y="437.9" font-size="12" fill="#333" text-anchor="middle" textLength="112.4" lengthAdjust="spacingAndGlyphs">2021.03.16 20:00:00</text>
<text x="509.98" y="437.9" font-size="12" fill="#333" text-anchor="middle" textLength="112.4" lengthAdjust="spacingAndGlyphs">2021.03.17 13:00:00</text>
<text x="662.35" y="437.9" font-size="12" fill="#333" text-anchor="middle" textLength="112.4" lengthAdjust="spacingAndGlyphs">2021.03.18 06:00:00</text>
<text x="814.73" y="437.9" font-size="12" fill="#333" text-anchor="middle" textLength="112.4" lengthAdjust="spacingAndGlyphs">2021.03.18 23:00:00</text>
<text x="967.1" y="437.9" font-size="12" fill="#333" text-anchor="middle" textLength="112.4" lengthAdjust="spacingAndGlyphs">2021.03.19 16:00:00</text>
<text x="1119.47" y="437.9" font-size="12" fill="#333" text-anchor="middle" textLength="112.4" lengthAdjust="spacingAndGlyphs">2021.03.22 09:00:00</text>
<text x="1271.84" y="437.9" font-size="12" fill="#333" text-anchor="middle" textLength="112.4" lengthAdjust="spacingAndGlyphs">2021.03.23 02:00:00</text>
<text x="1340" y="240.7" font-size="12" fill="#ff6060">84.5</text>
<text x="1340" y="248.7" font-size="12" fill="#ff6060">84.45</text>
<text x="1340" y="270.8" font-size="12" fill="#ff6060">84.33</text>
<text x="1340" y="305.8" font-size="12" fill="#ff6060">84.11</text>
<rect x="17.9" y="548.6" width="7.2" height="15.4" fill="#17b145"/>
<rect x="26.93" y="523.3" width="7.2" height="40.7" fill="#ee232c"/>
<rect x="35.95" y="532.1" width="7.2" height="31.9" fill="#ee232c"/>
<rect x="44.98" y="523.3" width="7.2" height="40.7" fill="#ee232c"/>
<rect x="54" y="509" width="7.2" height="55" fill="#17b145"/>
<rect x="63.03" y="524.9" width="7.2" height="39.1" fill="#ee232c"/>
<rect x="72.06" y="533.7" width="7.2" height="30.3" fill="#ee232c"/>
<rect x="81.08" y="527" width="7.2" height="37" fill="#ee232c"/>
<rect x="90.11" y="519.4" width="7.2" height="44.6" fill="#ee232c"/>
<rect x="99.13" y="509.8" width="7.2" height="54.2" fill="#17b145"/>
<rect x="108.16" y="508.4" width="7.2" height="55.6" fill="#ee232c"/>
<rect x="117.19" y="509.8" width="7.2" height="54.2" fill="#ee232c"/>
<rect x="126.21" y="520.2" width="7.2" height="43.8" fill="#17b145"/>
<rect x="135.24" y="535.7" width="7.2" height="28.3" fill="#17b145"/>
<rect x="144.26" y="541.6" width="7.2" height="22.4" fill="#ee232c"/>
<rect x="153.29" y="544.1" width="7.2" height="19.9" fill="#17b145"/>
<rect x="162.32" y="546.3" width="7.2" height="17.7" fill="#ee232c"/>
<rect x="171.34" y="559.4" width="7.2" height="4.6" fill="#ee232c"/>
<rect x="180.37" y="551.2" width="7.2" height="12.8" fill="#ee232c"/>
<rect x="189.39" y="548.2" width="7.2" height="15.8" fill="#17b145"/>
<rect x="198.42" y="533.9" width="7.2" height="30.1" fill="#17b145"/>
<rect x="207.45" y="533.1" width="7.2" height="30.9" fill="#17b145"/>
<rect x="216.47" y="538" width="7.2" height="26" fill="#17b145"/>
<rect x="225.5" y="534.9" width="7.2" height="29.1" fill="#17b145"/>
<rect x="234.52" y="543.1" width="7.2" height="20.9" fill="#17b145"/>
<rect x="243.55" y="541" width="7.2" height="23" fill="#ee232c"/>
<rect x="252.58" y="534.9" width="7.2" height="29.1" fill="#ee232c"/>
<rect x="261.6" y="522.5" width="7.2" height="41.5" fill="#ee232c"/>
<rect x="270.63" y="516.2" width="7.2" height="47.8" fill="#ee232c"/>
<rect x="279.65" y="524.7" width="7.2" height="39.3" fill="#ee232c"/>
<rect x="288.68" y="532.9" width="7.2" height="31.1" fill="#17b145"/>
<rect x="297.71" y="528" width="7.2" height="36" fill="#ee232c"/>
<rect x="306.73" y="509.4" width="7.2" height="54.6" fill="#ee232c"/>
<rect x="315.76" y="502.1" width="7.2" height="61.9" fill="#ee232c"/>
<rect x="324.78" y="514.9" width="7.2" height="49.1" fill="#17b145"/>
<rect x="333.81" y="510.9" width="7.2" height="53.1" fill="#17b145"/>
<rect x="342.84" y="519" width="7.2" height="45" fill="#17b145"/>
<rect x="351.86" y="521.9" width="7.2" height="42.1" fill="#ee232c"/>
<rect x="360.89" y="528.2" width="7.2" height="35.8" fill="#ee232c"/>
<rect x="369.92" y="539" width="7.2" height="25" fill="#17b145"/>
<rect x="378.94" y="549.2" width="7.2" height="14.8" fill="#ee232c"/>
<rect x="387.97" y="560.4" width="7.2" height="3.6" fill="#ee232c"/>
<rect x="396.99" y="551.2" width="7.2" height="12.8" fill="#17b145"/>
<rect x="406.02" y="549.8" width="7.2" height="14.2" fill="#17b145"/>
<rect x="415.05" y="532.5" width="7.2" height="31.5" fill="#ee232c"/>
<rect x="424.07" y="532.1" width="7.2" height="31.9" fill="#ee232c"/>
<rect x="433.1" y="541.8" width="7.2" height="22.2" fill="#17b145"/>
<rect x="442.12" y="543.7" width="7.2" height="20.3" fill="#ee232c"/>
<rect x="451.15" y="551.2" width="7.2" height="12.8" fill="#17b145"/>
<rect x="460.18" y="544.7" width="7.2" height="19.3" fill="#ee232c"/>
<rect x="469.2" y="541.9" width="7.2" height="22.1" fill="#17b145"/>
<rect x="478.23" y="532.9" width="7.2" height="31.1" fill="#ee232c"/>
<rect x="487.25" y="524.3" width="7.2" height="39.7" fill="#ee232c"/>
<rect x="496.28" y="529.6" width="7.2" height="34.4" fill="#17b145"/>
<rect x="505.31" y="534.3" width="7.2" height="29.7" fill="#17b145"/>
<rect x="514.33" y="523.3" width="7.2" height="40.7" fill="#ee232c"/>
<rect x="523.36" y="521.3" width="7.2" height="42.7" fill="#17b145"/>
<rect x="532.38" y="514.3" width="7.2" height="49.7" fill="#17b145"/>
<rect x="541.41" y="513.9" width="7.2" height="50.1" fill="#ee232c"/>
<rect x="550.44" y="515.8" width="7.2" height="48.2" fill="#ee232c"/>
<rect x="559.46" y="524.3" width="7.2" height="39.7" fill="#ee232c"/>
<rect x="568.49" y="534.1" width="7.2" height="29.9" fill="#ee232c"/>
<rect x="577.51" y="458.9" width="7.2" height="105.1" fill="#17b145"/>
<rect x="586.54" y="497.2" width="7.2" height="66.8" fill="#17b145"/>
<rect x="595.57" y="541" width="7.2" height="23" fill="#ee232c"/>
<rect x="604.59" y="554.1" width="7.2" height="9.9" fill="#17b145"/>
<rect x="613.62" y="537" width="7.2" height="27" fill="#17b145"/>
<rect x="622.64" y="543.7" width="7.2" height="20.3" fill="#17b145"/>
<rect x="631.67" y="520.2" width="7.2" height="43.8" fill="#17b145"/>
<rect x="640.7" y="520.2" width="7.2" height="43.8" fill="#17b145"/>
<rect x="649.72" y="530" width="7.2" height="34" fill="#17b145"/>
<rect x="658.75" y="507.4" width="7.2" height="56.6" fill="#ee232c"/>
<rect x="667.77" y="532.1" width="7.2" height="31.9" fill="#17b145"/>
<rect x="676.8" y="531.2" width="7.2" height="32.8" fill="#ee232c"/>
<rect x="685.83" y="530.6" width="7.2" height="33.4" fill="#17b145"/>
<rect x="694.85" y="494.3" width="7.2" height="69.7" fill="#ee232c"/>
<rect x="703.88" y="502.1" width="7.2" height="61.9" fill="#ee232c"/>
<rect x="712.9" y="513.1" width="7.2" height="50.9" fill="#ee232c"/>
<rect x="721.93" y="522.1" width="7.2" height="41.9" fill="#ee232c"/>
<rect x="730.96" y="514.3" width="7.2" height="49.7" fill="#ee232c"/>
<rect x="739.98" y="500.7" width="7.2" height="63.3" fill="#ee232c"/>
<rect x="749.01" y="497.4" width="7.2" height="66.6" fill="#ee232c"/>
<rect x="758.03" y="495" width="7.2" height="69" fill="#ee232c"/>
<rect x="767.06" y="514.9" width="7.2" height="49.1" fill="#17b145"/>
<rect x="776.09" y="516.2" width="7.2" height="47.8" fill="#ee232c"/>
<rect x="785.11" y="524.1" width="7.2" height="39.9" fill="#17b145"/>
<rect x="794.14" y="521" width="7.2" height="43" fill="#ee232c"/>
<rect x="803.16" y="509.4" width="7.2" height="54.6" fill="#ee232c"/>
<rect x="812.19" y="541" width="7.2" height="23" fill="#17b145"/>
<rect x="821.22" y="555.1" width="7.2" height="8.9" fill="#17b145"/>
<rect x="830.24" y="547.1" width="7.2" height="16.9" fill="#17b145"/>
<rect x="839.27" y="543.3" width="7.2" height="20.7" fill="#ee232c"/>
<rect x="848.29" y="528" width="7.2" height="36" fill="#17b145"/>
<rect x="857.32" y="516.4" width="7.2" height="47.6" fill="#ee232c"/>
<rect x="866.35" y="526.6" width="7.2" height="37.4" fill="#ee232c"/>
<rect x="875.37" y="514.3" width="7.2" height="49.7" fill="#17b145"/>
<rect x="884.4" y="531.5" width="7.2" height="32.5" fill="#17b145"/>
<rect x="893.42" y="532.9" width="7.2" height="31.1" fill="#ee232c"/>
<rect x="902.45" y="519" width="7.2" height="45" fill="#17b145"/>
<rect x="911.48" y="521.1" width="7.2" height="42.9" fill="#17b145"/>
<rect x="920.5" y="511.3" width="7.2" height="52.7" fill="#17b145"/>
<rect x="929.53" y="521.7" width="7.2" height="42.3" fill="#ee232c"/>
<rect x="938.55" y="526.1" width="7.2" height="37.9" fill="#17b145"/>
<rect x="947.58" y="522.1" width="7.2" height="41.9" fill="#ee232c"/>
<rect x="956.61" y="514.9" width="7.2" height="49.1" fill="#ee232c"/>
<rect x="965.63" y="467.8" width="7.2" height="96.2" fill="#ee232c"/>
<rect x="974.66" y="488" width="7.2" height="76" fill="#17b145"/>
<rect x="983.68" y="502.1" width="7.2" height="61.9" fill="#17b145"/>
<rect x="992.71" y="519" width="7.2" height="45" fill="#17b145"/>
<rect x="1001.74" y="532.5" width="7.2" height="31.5" fill="#ee232c"/>
<rect x="1010.76" y="535.1" width="7.2" height="28.9" fill="#17b145"/>
<rect x="1019.79" y="533.3" width="7.2" height="30.7" fill="#ee232c"/>
<rect x="1028.82" y="540" width="7.2" height="24" fill="#ee232c"/>
<rect x="1037.84" y="558.6" width="7.2" height="5.4" fill="#17b145"/>
<rect x="1046.87" y="541.4" width="7.2" height="22.6" fill="#17b145"/>
<rect x="1055.89" y="545.3" width="7.2" height="18.7" fill="#ee232c"/>
<rect x="1064.92" y="528" width="7.2" height="36" fill="#ee232c"/>
<rect x="1073.95" y="513.9" width="7.2" height="50.1" fill="#ee232c"/>
<rect x="1082.97" y="527.2" width="7.2" height="36.8" fill="#ee232c"/>
<rect x="1092" y="535.1" width="7.2" height="28.9" fill="#17b145"/>
<rect x="1101.02" y="540" width="7.2" height="24" fill="#17b145"/>
<rect x="1110.05" y="532.9" width="7.2" height="31.1" fill="#17b145"/>
<rect x="1119.08" y="524.1" width="7.2" height="39.9" fill="#ee232c"/>
<rect x="1128.1" y="517.2" width="7.2" height="46.8" fill="#ee232c"/>
<rect x="1137.13" y="509.4" width="7.2" height="54.6" fill="#17b145"/>
<rect x="1146.15" y="529.6" width="7.2" height="34.4" fill="#17b145"/>
<rect x="1155.18" y="531" width="7.2" height="33" fill="#17b145"/>
<rect x="1164.21" y="522.5" width="7.2" height="41.5" fill="#17b145"/>
<rect x="1173.23" y="517.4" width="7.2" height="46.6" fill="#17b145"/>
<rect x="1182.26" y="508" width="7.2" height="56" fill="#ee232c"/>
<rect x="1191.28" y="510.2" width="7.2" height="53.8" fill="#17b145"/>
<rect x="1200.31" y="523.9" width="7.2" height="40.1" fill="#ee232c"/>
<rect x="1209.34" y="534.5" width="7.2" height="29.5" fill="#17b145"/>
<rect x="1218.36" y="540" width="7.2" height="24" fill="#17b145"/>
<rect x="1227.39" y="544.3" width="7.2" height="19.7" fill="#17b145"/>
<rect x="1236.41" y="543.7" width="7.2" height="20.3" fill="#ee232c"/>
<rect x="1245.44" y="549.2" width="7.2" height="14.8" fill="#17b145"/>
<rect x="1254.47" y="562" width="7.2" height="2" fill="#ee232c"/>
<rect x="1263.49" y="547.8" width="7.2" height="16.2" fill="#ee232c"/>
<rect x="1272.52" y="546.1" width="7.2" height="17.9" fill="#17b145"/>
<rect x="1281.54" y="531.5" width="7.2" height="32.5" fill="#ee232c"/>
<rect x="1290.57" y="524.1" width="7.2" height="39.9" fill="#ee232c"/>
<rect x="1299.6" y="526.8" width="7.2" height="37.2" fill="#ee232c"/>
<rect x="1308.62" y="543.3" width="7.2" height="20.7" fill="#ee232c"/>
<rect x="1317.65" y="545.9" width="7.2" height="18.1" fill="#ee232c"/>
<rect x="1326.67" y="534.1" width="7.2" height="29.9" fill="#ee232c"/>
<rect x="1335.7" y="563" width="7.2" height="1" fill="#ee232c"/>
<line x1="21.3" y1="564.5" x2="1340" y2="564.5" stroke="#333" stroke-width="1"/>
<g><rect x="1241.5" y="530.5" width="38" height="39" rx="8" fill="#fff" fill-opacity="0.18" stroke="#000" stroke-opacity="0.06" stroke-width="2"/><circle cx="1259.5" cy="550.5" r="13" fill="#fff" fill-opacity="0.25" stroke="#000" stroke-opacity="0.05" stroke-width="4"/><circle cx="1259.5" cy="550.5" r="13" fill="none" stroke="#fff" stroke-opacity="0.75" stroke-width="2.2"/><path d="M1252,544 L1262,541 L1266,548 L1262,556 L1253,556 Z" fill="#fff" fill-opacity="0.55"/><text x="1290.5" y="562.5" font-size="33.5" font-weight="bold" fill="none" stroke="#000" stroke-opacity="0.07" stroke-width="2.4" textLength="104.5" lengthAdjust="spacingAndGlyphs">WikiFX</text><text x="1290.5" y="562.5" font-size="33.5" font-weight="bold" fill="#fff" fill-opacity="0.38" textLength="104.5" lengthAdjust="spacingAndGlyphs">WikiFX</text></g>
</svg>
</body></html>
